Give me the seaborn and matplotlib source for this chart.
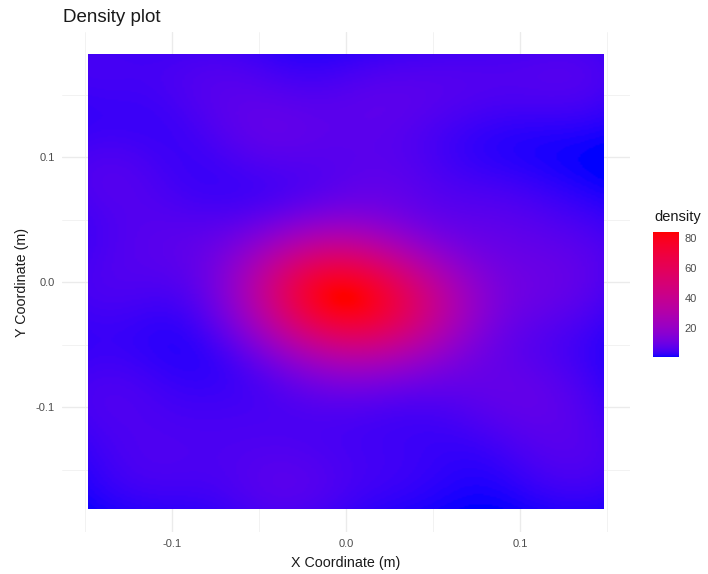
import numpy as np
import matplotlib
matplotlib.use("Agg")
import matplotlib.pyplot as plt
from matplotlib.colors import ListedColormap
import seaborn as sns

# sample locations (m) and their weights
pts_x = [-0.008, -0.032, 0.034, 0.000, 0.005,
         -0.0425, -0.1385, 0.0195, 0.1316, 0.0224, 0.0856, 0.1184, 0.1115,
         -0.035, -0.1385, 0.1333, -0.077,
         -0.148, -0.104, -0.061, 0.0713, -0.1414, -0.1126, 0.031, 0.0713,
         -0.0092, 0.140, -0.0667, 0.077]
pts_y = [-0.012, -0.008, -0.020, 0.015, -0.042,
         0.119, 0.0856, 0.1456, 0.1656, 0.0792, 0.052, -0.012, -0.0944,
         -0.1664, -0.0904, -0.1448, 0.164,
         0.175, 0.0336, 0.0256, 0.1616, -0.0064, -0.150, -0.150, -0.0784,
         -0.0944, 0.0256, -0.110, 0.0016]
pts_w = [0.26, 0.08, 0.17, 0.07, 0.07,
         0.036, 0.03, 0.03, 0.03, 0.03, 0.026, 0.03, 0.03,
         0.033, 0.026, 0.026, 0.026,
         0.023, 0.023, 0.016, 0.023, 0.023, 0.023, 0.016, 0.023,
         0.016, 0.02, 0.016, 0.016]
bw = 0.03
x_range = (-0.148, 0.148)
y_range = (-0.182, 0.182)

# 2d gaussian kernel density on a grid
gx = np.linspace(x_range[0], x_range[1], 240)
gy = np.linspace(y_range[0], y_range[1], 300)
X, Y = np.meshgrid(gx, gy)
dens = np.zeros_like(X)
for px, py, w in zip(pts_x, pts_y, pts_w):
    dens += w * np.exp(-((X - px) ** 2 + (Y - py) ** 2) / (2 * bw ** 2)) / (2 * np.pi * bw ** 2)


# blue -> red gradient interpolated in Lab, like ggplot's scale_fill_gradient
def to_lab(rgb):
    rgb = np.asarray(rgb, float)
    lin = np.where(rgb <= 0.04045, rgb / 12.92, ((rgb + 0.055) / 1.055) ** 2.4)
    M = np.array([[0.4124, 0.3576, 0.1805], [0.2126, 0.7152, 0.0722], [0.0193, 0.1192, 0.9505]])
    xyz = M @ lin / np.array([0.95047, 1.0, 1.08883])
    d = 6 / 29
    f = np.where(xyz > d ** 3, np.cbrt(xyz), xyz / (3 * d * d) + 4 / 29)
    return np.array([116 * f[1] - 16, 500 * (f[0] - f[1]), 200 * (f[1] - f[2])])


def from_lab(lab):
    L, a, b = lab
    fy = (L + 16) / 116
    f = np.array([fy + a / 500, fy, fy - b / 200])
    d = 6 / 29
    xyz = np.where(f > d, f ** 3, 3 * d * d * (f - 4 / 29)) * np.array([0.95047, 1.0, 1.08883])
    Minv = np.linalg.inv(np.array([[0.4124, 0.3576, 0.1805], [0.2126, 0.7152, 0.0722], [0.0193, 0.1192, 0.9505]]))
    lin = np.clip(Minv @ xyz, 0, 1)
    return np.where(lin <= 0.0031308, 12.92 * lin, 1.055 * lin ** (1 / 2.4) - 0.055)


lo, hi = to_lab([0, 0, 1]), to_lab([1, 0, 0])
cmap = ListedColormap([np.clip(from_lab(lo + t * (hi - lo)), 0, 1) for t in np.linspace(0, 1, 256)])

sns.set_theme(style="whitegrid")
plt.rcParams["font.family"] = ["Liberation Sans", "DejaVu Sans"]

fig = plt.figure(figsize=(7.08, 5.74), dpi=100)
ax = fig.add_axes([62 / 708, 42 / 574, 568 / 708, 500 / 574])
ax.set_facecolor("white")
im = ax.imshow(dens, extent=[gx[0], gx[-1], gy[0], gy[-1]], origin="lower", cmap=cmap,
               vmin=dens.min(), vmax=dens.max(), aspect="auto", interpolation="bilinear", zorder=2)
ax.set_xlim(-0.1632, 0.1632)
ax.set_ylim(-0.2, 0.2)
ax.set_xticks([-0.1, 0.0, 0.1])
ax.set_xticklabels(["-0.1", "0.0", "0.1"])
ax.set_yticks([-0.1, 0.0, 0.1])
ax.set_yticklabels(["-0.1", "0.0", "0.1"])
ax.set_xticks([-0.15, -0.05, 0.05, 0.15], minor=True)
ax.set_yticks([-0.15, -0.05, 0.05, 0.15], minor=True)
ax.grid(which="major", color="#EBEBEB", lw=1.0)
ax.grid(which="minor", color="#F0F0F0", lw=0.6)
for s in ax.spines.values():
    s.set_visible(False)
ax.tick_params(which="both", length=0, labelsize=8, labelcolor="#4D4D4D", pad=5)

fig.text(63 / 708, 1 - 22 / 574, "Density plot", fontsize=13.5, color="#1A1A1A", va="baseline")
fig.text(346 / 708, 1 - 567 / 574, "X Coordinate (m)", fontsize=10.3, color="#1A1A1A",
         ha="center", va="baseline")
fig.text(22 / 708, 1 - 282 / 574, "Y Coordinate (m)", fontsize=10.3, color="#1A1A1A",
         ha="center", va="center", rotation=90)

cax = fig.add_axes([653 / 708, (574 - 357) / 574, 26 / 708, 125 / 574])
cb = fig.colorbar(im, cax=cax, ticks=[20, 40, 60, 80])
cb.outline.set_visible(False)
cax.tick_params(direction="in", length=5, width=0.8, color="white", left=True, right=True,
                labelsize=8, labelcolor="#4D4D4D", pad=4)
fig.text(654 / 708, 1 - 221 / 574, "density", fontsize=10.5, color="#1A1A1A", va="baseline")

fig.savefig("out.png", dpi=100)
